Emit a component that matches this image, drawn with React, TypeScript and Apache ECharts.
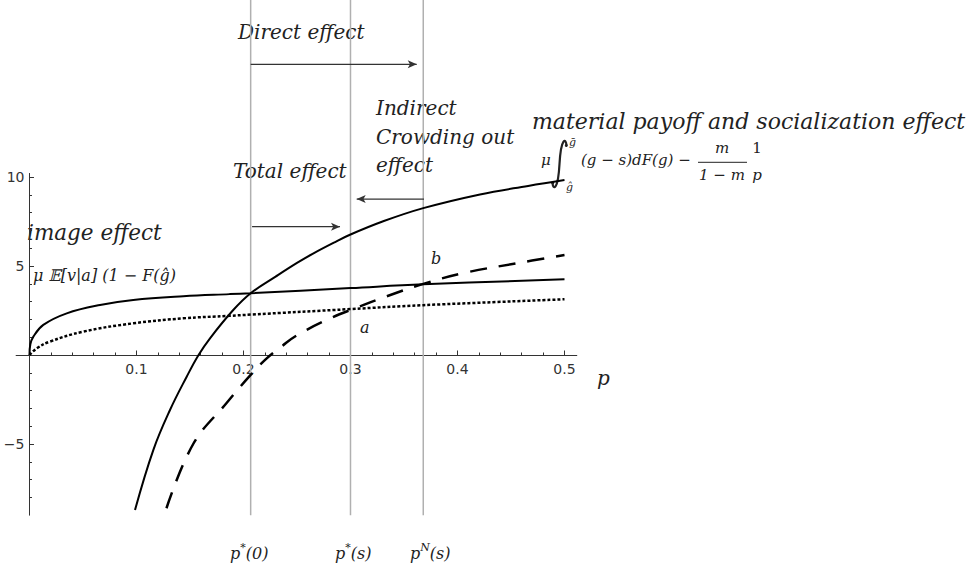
import React, { useEffect, useRef } from "react";
import * as echarts from "echarts";

// ---------- data ----------
// material payoff and socialization effect (steep solid curve)
const materialP = [0.0986, 0.1157, 0.1313, 0.1469, 0.158, 0.1687, 0.19, 0.2067, 0.23, 0.25, 0.265, 0.284, 0.3, 0.33, 0.368, 0.421, 0.466, 0.5];
const materialV = [-8.71, -5.34, -3.09, -1.22, 0, 0.94, 2.5, 3.47, 4.4, 5.17, 5.7, 6.3, 6.77, 7.5, 8.25, 9.02, 9.5, 9.83];

// image effect (flat solid curve)
const imageP = [0, 0.0008, 0.0036, 0.0129, 0.0348, 0.0659, 0.097, 0.1437, 0.187, 0.2067, 0.3, 0.368, 0.5];
const imageV = [0, 0.6, 1.03, 1.69, 2.34, 2.81, 3.09, 3.3, 3.42, 3.47, 3.76, 3.97, 4.25];

// dotted curve
const dottedP = [0, 0.0067, 0.019, 0.05, 0.097, 0.1437, 0.187, 0.2067, 0.3, 0.368, 0.5];
const dottedV = [0, 0.37, 0.75, 1.31, 1.78, 2.06, 2.2, 2.27, 2.58, 2.8, 3.13];

// dashed curve
const dashedP = [0.128, 0.153, 0.184, 0.2067, 0.2217, 0.236, 0.2497, 0.281, 0.304, 0.334, 0.3665, 0.4054, 0.455, 0.5];
const dashedV = [-8.61, -5.0, -2.71, -1.12, -0.19, 0.5, 1.1, 2.06, 2.62, 3.3, 3.97, 4.6, 5.15, 5.62];

// reference values p*(0), p*(s), p^N(s)
const refNames = ["p*(0)", "p*(s)", "pN(s)"];
const refP = [0.2067, 0.3, 0.368];

// axis ticks
const xTickValues = [0.1, 0.2, 0.3, 0.4, 0.5];
const xTickLabels = ["0.1", "0.2", "0.3", "0.4", "0.5"];
const xMinorValues = [0.02, 0.04, 0.06, 0.08, 0.12, 0.14, 0.16, 0.18, 0.22, 0.24, 0.26, 0.28, 0.32, 0.34, 0.36, 0.38, 0.42, 0.44, 0.46, 0.48];
const yTickValues = [-5, 0, 5, 10];
const yLabelValues = [-5, 5, 10];
const yLabelTexts = ["\u22125", "5", "10"];
const yMinorValues = [-8, -7, -6, -4, -3, -2, -1, 1, 2, 3, 4, 6, 7, 8, 9];

// arrows (annotation positions in data units)
const arrowDirectY = 16.33;
const arrowCrowdY = 8.76;
const arrowTotalY = 7.21;

const X_MIN = -0.0125;
const X_MAX = 0.5115;
const Y_MIN = -9;
const Y_MAX = 10.2;
const Y_TOP_PAGE = 19.94;

// layout (pixels)
const GRID_LEFT = 16.125;
const GRID_RIGHT_EDGE = 576.8;
const PX_PER_Y = 17.8;
const Y_ZERO_PX = 355;
const GRID_TOP = Y_ZERO_PX - Y_MAX * PX_PER_Y;
const GRID_BOTTOM_EDGE = Y_ZERO_PX - Y_MIN * PX_PER_Y;
const PX_PER_X = (GRID_RIGHT_EDGE - GRID_LEFT) / (X_MAX - X_MIN);
const X_AXIS_OFFSET = -(0 - Y_MIN) * PX_PER_Y; // lift x axis to y = 0
const Y_AXIS_OFFSET = -(0 - X_MIN) * PX_PER_X; // push y axis to x = 0

const zip = (a: number[], b: number[]) => a.map((v, i) => [v, b[i]]);

const SERIF = "DejaVu Serif";
const INK = "#222";
const AXIS = "#333";

function txt(text: string, x: number, y: number, size: number, extra: any = {}) {
  return {
    type: "text",
    x,
    y,
    silent: true,
    style: {
      text,
      fontSize: size,
      fontFamily: SERIF,
      fontStyle: "italic",
      fill: INK,
      align: "left",
      verticalAlign: "middle",
      textAlign: "left",
      textVerticalAlign: "middle",
      ...extra,
    },
  };
}

function arrowSeries(name: string, x0: number, x1: number, y: number, rotate: number) {
  return {
    name,
    type: "line",
    clip: false,
    silent: true,
    showSymbol: true,
    symbol: "none",
    lineStyle: { color: AXIS, width: 1.3 },
    data: [
      { value: [x0, y], symbol: "none" },
      { value: [x1, y], symbol: "arrow", symbolSize: [6, 9], symbolRotate: rotate, itemStyle: { color: AXIS } },
    ],
    z: 3,
  };
}

function curve(name: string, p: number[], v: number[], lineStyle: any) {
  return {
    name,
    type: "line",
    smooth: 0.4,
    showSymbol: false,
    symbol: "none",
    clip: false,
    lineStyle: { color: "#000", ...lineStyle },
    data: zip(p, v),
    z: 5,
  };
}

export default function App() {
  const ref = useRef<HTMLDivElement>(null);

  useEffect(() => {
    if (!ref.current) return;
    const chart = echarts.init(ref.current, undefined, { renderer: "svg" });

    const refLines = refP.map((p, i) => ({
      name: refNames[i],
      type: "line",
      clip: false,
      silent: true,
      showSymbol: false,
      symbol: "none",
      lineStyle: { color: "#b0b0b0", width: 1.5 },
      data: [
        [p, Y_MIN],
        [p, Y_TOP_PAGE],
      ],
      z: 1,
    }));

    const xAxisBase = {
      type: "value",
      min: X_MIN,
      max: X_MAX,
      position: "bottom",
      offset: X_AXIS_OFFSET,
      splitLine: { show: false },
    };
    const yAxisBase = {
      type: "value",
      min: Y_MIN,
      max: Y_MAX,
      position: "left",
      offset: Y_AXIS_OFFSET,
      splitLine: { show: false },
    };

    const intStyle = { stroke: INK, lineWidth: 2.2, fill: "none" };

    const option: any = {
      animation: false,
      grid: {
        left: GRID_LEFT,
        right: 975 - GRID_RIGHT_EDGE,
        top: GRID_TOP,
        bottom: 579 - GRID_BOTTOM_EDGE,
        containLabel: false,
        outerBoundsMode: "none",
      },
      xAxis: [
        {
          ...xAxisBase,
          axisLine: { show: true, onZero: false, lineStyle: { color: AXIS, width: 1 } },
          axisTick: { show: true, inside: true, length: 4.5, customValues: xTickValues, lineStyle: { color: AXIS } },
          axisLabel: {
            show: true,
            customValues: xTickValues,
            formatter: (v: number) => xTickLabels[xTickValues.findIndex((t) => Math.abs(t - v) < 1e-6)] ?? "",
            margin: 7,
            fontFamily: "DejaVu Sans",
            fontSize: 14,
            color: AXIS,
          },
        },
        {
          ...xAxisBase,
          axisLine: { show: false, onZero: false },
          axisTick: { show: true, inside: true, length: 2.5, customValues: xMinorValues, lineStyle: { color: AXIS } },
          axisLabel: { show: false },
        },
      ],
      yAxis: [
        {
          ...yAxisBase,
          axisLine: { show: true, onZero: false, lineStyle: { color: AXIS, width: 1 } },
          axisTick: { show: true, inside: true, length: 4.5, customValues: yTickValues, lineStyle: { color: AXIS } },
          axisLabel: {
            show: true,
            customValues: yLabelValues,
            formatter: (v: number) => yLabelTexts[yLabelValues.findIndex((t) => Math.abs(t - v) < 1e-6)] ?? "",
            margin: 5,
            fontFamily: "DejaVu Sans",
            fontSize: 14,
            color: AXIS,
          },
        },
        {
          ...yAxisBase,
          axisLine: { show: false, onZero: false },
          axisTick: { show: true, inside: true, length: 2.5, customValues: yMinorValues, lineStyle: { color: AXIS } },
          axisLabel: { show: false },
        },
      ],
      series: [
        ...refLines,
        curve("material", materialP, materialV, { width: 2 }),
        curve("image", imageP, imageV, { width: 2 }),
        curve("dotted", dottedP, dottedV, { width: 2.5, type: [3, 2] }),
        curve("dashed", dashedP, dashedV, { width: 2.5, type: [17, 12] }),
        arrowSeries("Direct effect", refP[0], 0.3619, arrowDirectY, -90),
        arrowSeries("Crowding out effect", 0.3687, 0.3058, arrowCrowdY, 90),
        arrowSeries("Total effect", 0.208, 0.2902, arrowTotalY, -90),
      ],
      graphic: [
        txt("Direct effect", 238, 32, 20),
        txt("Indirect", 376, 108, 20),
        txt("Crowding out", 376, 137, 20),
        txt("effect", 376, 165, 20),
        txt("Total effect", 233, 171, 20),
        txt("material payoff and socialization effect", 532, 121, 22),
        // formula
        txt("\u03bc", 541, 160, 15),
        {
          type: "bezierCurve",
          silent: true,
          shape: { x1: 566.5, y1: 145.5, cpx1: 566, cpy1: 138, cpx2: 561, cpy2: 137, x2: 559.5, y2: 164 },
          style: intStyle,
        },
        {
          type: "bezierCurve",
          silent: true,
          shape: { x1: 559.5, y1: 164, cpx1: 558, cpy1: 191, cpx2: 553, cpy2: 190, x2: 552.5, y2: 183 },
          style: intStyle,
        },
        { type: "circle", silent: true, shape: { cx: 566.3, cy: 145.5, r: 1.5 }, style: { fill: INK } },
        { type: "circle", silent: true, shape: { cx: 552.7, cy: 183, r: 1.5 }, style: { fill: INK } },
        txt("\u1e21", 569, 142, 11),
        txt("\u011d", 566, 187, 11),
        txt("(g \u2212 s)dF(g) \u2212", 581, 160, 15),
        txt("m", 722, 148, 15, { align: "center", textAlign: "center" }),
        { type: "line", silent: true, shape: { x1: 698, y1: 162.3, x2: 747, y2: 162.3 }, style: { stroke: INK, lineWidth: 1 } },
        txt("1 \u2212 m", 722, 175, 15, { align: "center", textAlign: "center" }),
        txt("1", 757, 148, 15, { align: "center", textAlign: "center", fontStyle: "normal" }),
        txt("p", 757, 175, 15, { align: "center", textAlign: "center" }),
        txt("image effect", 27, 232, 21.5),
        txt("\u03bc \ud835\udd3c[v|a] (1 \u2212 F(\u011d)", 33, 275, 16),
        txt("a", 360, 327, 16),
        txt("b", 431, 258, 16),
        txt("p", 597, 378, 20),
        // reference value labels
        ...[
          { x: 230, n: "{p|p}{s|*}{n|(0)}" },
          { x: 335, n: "{p|p}{s|*}{n|(s)}" },
          { x: 410, n: "{p|p}{s|N}{n|(s)}" },
        ].map((o) => ({
          type: "text",
          x: o.x,
          y: 553,
          silent: true,
          style: {
            text: o.n,
            fontFamily: SERIF,
            fontSize: 16,
            fill: INK,
            align: "left",
            verticalAlign: "middle",
            rich: {
              p: { fontFamily: SERIF, fontStyle: "italic", fontSize: 16, lineHeight: 22, fill: INK },
              s: { fontFamily: SERIF, fontStyle: "italic", fontSize: 11, lineHeight: 12, verticalAlign: "top", fill: INK },
              n: { fontFamily: SERIF, fontStyle: "italic", fontSize: 16, lineHeight: 22, fill: INK },
            },
          },
        })),
      ],
    };

    chart.setOption(option);
    return () => chart.dispose();
  }, []);

  return (
    <div
      ref={ref}
      style={{ position: "absolute", left: 0, top: 0, width: 975, height: 579, background: "#fff" }}
    />
  );
}
